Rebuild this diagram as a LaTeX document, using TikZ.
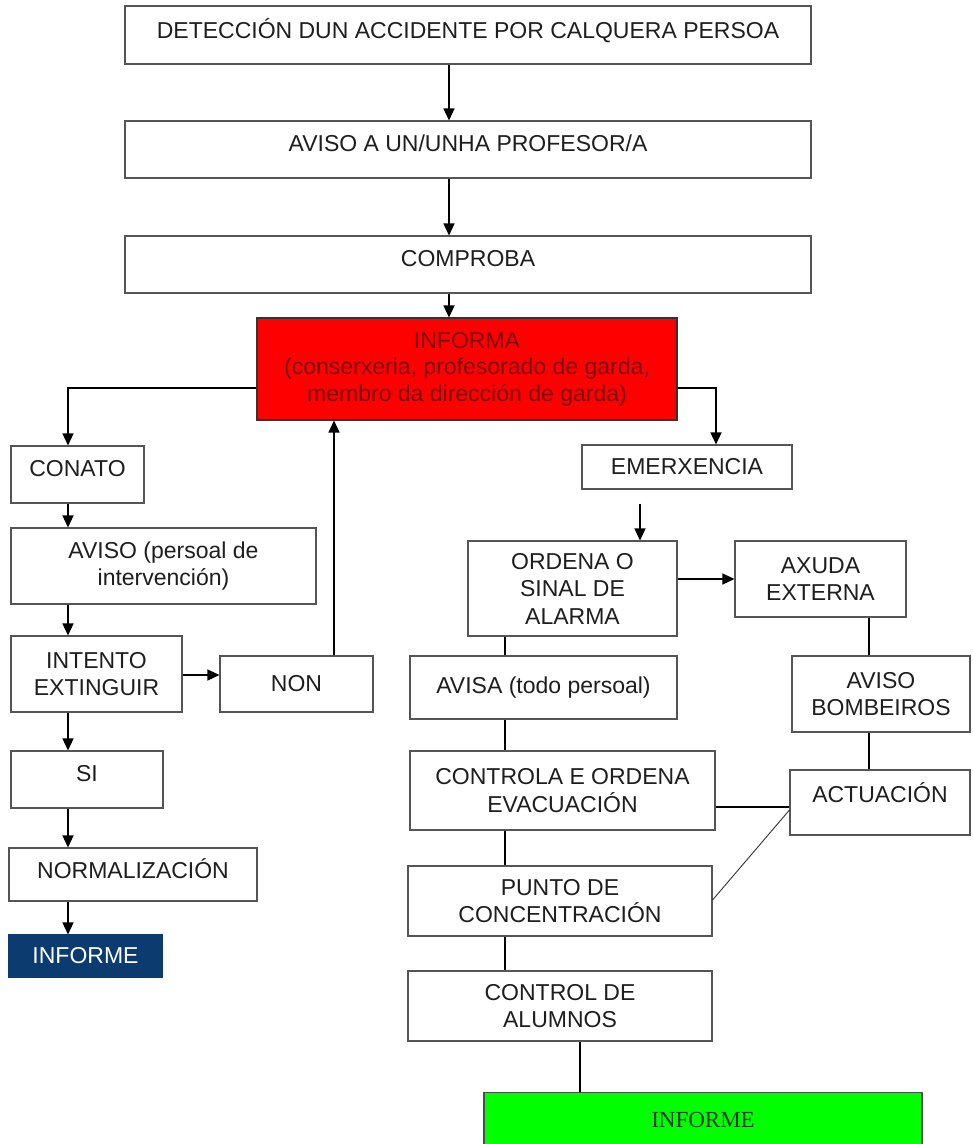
\documentclass[tikz,border=0pt]{standalone}
\usepackage{fontspec}
\setmainfont{Liberation Sans}
\newfontfamily\seriffont{Liberation Serif}
\usepackage{tikz}
\usetikzlibrary{arrows.meta,positioning,calc}
\definecolor{boxgray}{HTML}{555555}
\definecolor{textgray}{HTML}{1E1E1E}
\definecolor{alarmred}{HTML}{FF0000}
\definecolor{alarmtext}{HTML}{7A0A0A}
\definecolor{navyfill}{HTML}{0B3B6F}
\definecolor{limefill}{HTML}{00FF00}
\definecolor{limetext}{HTML}{1F3A1F}
\tikzset{
  stepbox/.style={draw=boxgray, fill=white, line width=1.1pt, align=center, inner sep=2pt, text=textgray, font=\fontsize{23}{27.5}\selectfont},
  hightext/.style={text depth=12pt},
  redbox/.style={stepbox, fill=alarmred, draw=black!80, text=alarmtext, font=\fontsize{23}{26.5}\selectfont},
  navybox/.style={stepbox, fill=navyfill, draw=navyfill, text=white},
  limebox/.style={stepbox, fill=limefill, draw=black!70, text=limetext, font=\seriffont\fontsize{23}{27}\selectfont},
  arr/.style={-{Triangle[length=12pt,width=11pt]}, line width=1.3pt, draw=black},
  link/.style={line width=1.3pt, draw=black},
  thinlink/.style={line width=0.9pt, draw=black!80}
}
\begin{document}
\begin{tikzpicture}[x=1pt,y=-1pt]
  \useasboundingbox (0,0) rectangle (973,1144);
  % main line
  \node[stepbox, hightext, minimum width=686pt, minimum height=58pt] (detec) at (468,35) {DETECCIÓN DUN ACCIDENTE POR CALQUERA PERSOA};
  \node[stepbox, hightext, minimum width=686pt, minimum height=57pt] (aviso) at (468,149.5) {AVISO A UN/UNHA PROFESOR/A};
  \node[stepbox, hightext, minimum width=686pt, minimum height=57pt] (comproba) at (468,264.5) {COMPROBA};
  \node[redbox, minimum width=420pt, minimum height=102pt] (informa) at (467,369) {INFORMA\\(conserxeria, profesorado de garda,\\membro da dirección de garda)};
  % conato
  \node[stepbox, hightext, minimum width=133pt, minimum height=57pt] (conato) at (77.5,474.5) {CONATO};
  \node[stepbox, minimum width=305pt, minimum height=76pt] (avisop) at (163.5,566) {AVISO (persoal de\\intervención)};
  \node[stepbox, minimum width=171pt, minimum height=76pt] (intento) at (96.5,674) {INTENTO\\EXTINGUIR};
  \node[stepbox, minimum width=153pt, minimum height=56pt] (non) at (296.5,684) {NON};
  \node[stepbox, hightext, minimum width=152pt, minimum height=57pt] (si) at (87,779.5) {SI};
  \node[stepbox, hightext, minimum width=248pt, minimum height=53pt] (normal) at (133,874.5) {NORMALIZACIÓN};
  \node[navybox, minimum width=153pt, minimum height=42pt] (informea) at (85.5,956) {INFORME};
  % emerxencia
  \node[stepbox, minimum width=210pt, minimum height=44pt] (emerx) at (687,467) {EMERXENCIA};
  \node[stepbox, minimum width=209pt, minimum height=95pt] (ordena) at (572.5,588.5) {ORDENA O\\SINAL DE\\ALARMA};
  \node[stepbox, minimum width=171pt, minimum height=76pt] (axuda) at (820.5,579) {AXUDA\\EXTERNA};
  \node[stepbox, minimum width=267pt, minimum height=63pt] (avisa) at (543.5,687.5) {AVISA (todo persoal)};
  \node[stepbox, minimum width=178pt, minimum height=76pt] (bomb) at (881,694) {AVISO\\BOMBEIROS};
  \node[stepbox, minimum width=305pt, minimum height=79pt] (controla) at (562.5,790.5) {CONTROLA E ORDENA\\EVACUACIÓN};
  \node[stepbox, text depth=20pt, minimum width=180pt, minimum height=65pt] (actua) at (880,802.5) {ACTUACIÓN};
  \node[stepbox, minimum width=304pt, minimum height=70pt] (punto) at (560,901) {PUNTO DE\\CONCENTRACIÓN};
  \node[stepbox, minimum width=304pt, minimum height=70pt] (control) at (560,1006) {CONTROL DE\\ALUMNOS};
  \node[limebox, minimum width=438pt, minimum height=55pt] (informeb) at (703,1120) {INFORME};
  % spines
  \coordinate (topx) at (449,0);
  \coordinate (leftx) at (68,0);
  \coordinate (nonx) at (334,0);
  \coordinate (rightx) at (716,0);
  \coordinate (ordx) at (640,0);
  \coordinate (midx) at (505,0);
  \coordinate (extx) at (869,0);
  \coordinate (finx) at (580,0);
  \draw[arr] (detec.south -| topx) -- (aviso.north -| topx);
  \draw[arr] (aviso.south -| topx) -- (comproba.north -| topx);
  \draw[arr] (comproba.south -| topx) -- (informa.north -| topx);
  \draw[arr] ([yshift=-19pt]informa.west) -| (conato.north -| leftx);
  \draw[arr] ([yshift=-19pt]informa.east) -| (emerx.north -| rightx);
  \draw[arr] (conato.south -| leftx) -- (avisop.north -| leftx);
  \draw[arr] (avisop.south -| leftx) -- (intento.north -| leftx);
  \draw[arr] ([yshift=-1pt]intento.east) -- ([yshift=-1pt]intento.east -| non.west);
  \draw[arr] (non.north -| nonx) -- (informa.south -| nonx);
  \draw[arr] (intento.south -| leftx) -- (si.north -| leftx);
  \draw[arr] (si.south -| leftx) -- (normal.north -| leftx);
  \draw[arr] (normal.south -| leftx) -- (informea.north -| leftx);
  \draw[arr] ([yshift=-14pt]emerx.south -| ordx) -- (ordena.north -| ordx);
  \draw[arr] (ordena.east |- axuda.west) -- (axuda.west);
  \draw[link] (ordena.south -| midx) -- (avisa.north -| midx);
  \draw[link] (avisa.south -| midx) -- (controla.north -| midx);
  \draw[link] (controla.south -| midx) -- (punto.north -| midx);
  \draw[link] (punto.south -| midx) -- (control.north -| midx);
  \draw[link] (axuda.south -| extx) -- (bomb.north -| extx);
  \draw[link] (bomb.south -| extx) -- (actua.north -| extx);
  \draw[link, line width=1.8pt] ([yshift=-16.5pt]controla.east) -- ([yshift=-16.5pt]controla.east -| actua.west);
  \draw[thinlink] ([yshift=1pt]punto.east) -- ([yshift=-7.5pt]actua.west);
  \draw[link] (control.south -| finx) -- (informeb.north -| finx);
\end{tikzpicture}
\end{document}
